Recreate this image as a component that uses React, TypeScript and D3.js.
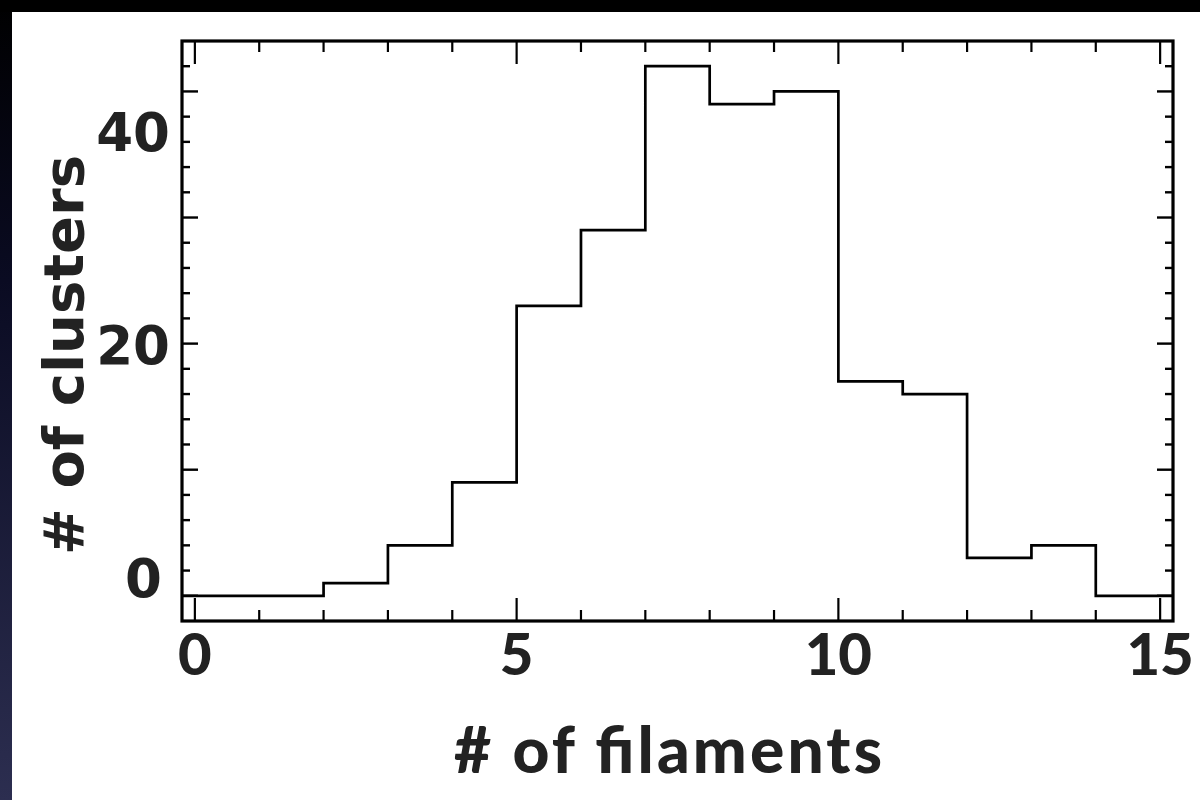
import React from "react";
import * as d3 from "d3";

// ---- data ----
const binEdges = [0, 1, 2, 3, 4, 5, 6, 7, 8, 9, 10, 11, 12, 13, 14, 15];
const counts = [0, 0, 1, 4, 9, 23, 29, 42, 39, 40, 17, 16, 3, 4, 0];
const xMajorTicks = [0, 5, 10, 15];
const xTickLabels = ["0", "5", "10", "15"];
const yMajorTicks = [0, 10, 20, 30, 40];
const yTickLabels = ["0", "20", "40"];
const yTickLabelAt = [1.4, 19.9, 36.8];
const xTitle = "# of filaments";
const yTitle = "# of clusters";

const W = 1200;
const H = 800;

export default function App() {
  const x = d3.scaleLinear().domain([-0.2, 15.2]).range([182, 1173]);
  const y = d3.scaleLinear().domain([-2, 44]).range([621, 41]);
  const [x0, x1] = x.domain();
  const [y0, y1] = y.domain();

  const pts: [number, number][] = counts.map((c, i) => [i === 0 ? x0 : binEdges[i], c]);
  pts.push([x1, counts[counts.length - 1]]);
  const line = d3
    .line<[number, number]>()
    .x((d) => x(d[0]))
    .y((d) => y(d[1]))
    .curve(d3.curveStepAfter);

  const xMinor = d3.range(0, 16, 1).filter((v) => !xMajorTicks.includes(v));
  const yMinor = d3.range(0, 43, 2).filter((v) => !yMajorTicks.includes(v));

  const top = y(y1);
  const bottom = y(y0);
  const left = x(x0);
  const right = x(x1);

  return (
    <svg
      width={W}
      height={H}
      style={{ position: "absolute", left: 0, top: 0, display: "block" }}
    >
      <defs>
        <linearGradient id="side" x1="0" y1="0" x2="0" y2="1">
          <stop offset="0" stopColor="#000000" />
          <stop offset="0.35" stopColor="#0a0b22" />
          <stop offset="1" stopColor="#2c2e50" />
        </linearGradient>
      </defs>
      <rect x={0} y={0} width={W} height={H} fill="#ffffff" />
      <rect x={0} y={0} width={12} height={H} fill="url(#side)" />
      <rect x={0} y={0} width={W} height={12} fill="#000000" />

      {/* histogram */}
      <path d={line(pts) || ""} fill="none" stroke="#000" strokeWidth={2.7} />

      {/* x ticks */}
      {xMajorTicks.map((v) => (
        <g key={"xM" + v}>
          <line x1={x(v)} x2={x(v)} y1={bottom} y2={bottom - 23} stroke="#000" strokeWidth={2.2} />
          <line x1={x(v)} x2={x(v)} y1={top} y2={top + 23} stroke="#000" strokeWidth={2.2} />
        </g>
      ))}
      {xMinor.map((v) => (
        <g key={"xm" + v}>
          <line x1={x(v)} x2={x(v)} y1={bottom} y2={bottom - 11} stroke="#000" strokeWidth={2.2} />
          <line x1={x(v)} x2={x(v)} y1={top} y2={top + 11} stroke="#000" strokeWidth={2.2} />
        </g>
      ))}
      {/* y ticks */}
      {yMajorTicks.map((v) => (
        <g key={"yM" + v}>
          <line x1={left} x2={left + 16} y1={y(v)} y2={y(v)} stroke="#000" strokeWidth={2.4} />
          <line x1={right} x2={right - 16} y1={y(v)} y2={y(v)} stroke="#000" strokeWidth={2.4} />
        </g>
      ))}
      {yMinor.map((v) => (
        <g key={"ym" + v}>
          <line x1={left} x2={left + 8} y1={y(v)} y2={y(v)} stroke="#000" strokeWidth={2.4} />
          <line x1={right} x2={right - 8} y1={y(v)} y2={y(v)} stroke="#000" strokeWidth={2.4} />
        </g>
      ))}

      {/* frame */}
      <rect
        x={left}
        y={top}
        width={right - left}
        height={bottom - top}
        fill="none"
        stroke="#000"
        strokeWidth={3.2}
      />

      {/* x tick labels */}
      {xMajorTicks.map((v, i) => (
        <text
          key={"xl" + v}
          x={x(v)}
          y={675}
          textAnchor="middle"
          fontFamily="Lato, 'Open Sans', sans-serif"
          fontWeight={900}
          fontSize={58}
          fill="#222"
        >
          {xTickLabels[i]}
        </text>
      ))}
      {/* y tick labels */}
      {yTickLabels.map((t, i) => (
        <text
          key={"yl" + t}
          x={t === "0" ? 162 : 170}
          y={y(yTickLabelAt[i])}
          dy="0.36em"
          textAnchor="end"
          fontFamily="'DejaVu Sans', sans-serif"
          fontWeight={700}
          fontSize={53}
          fill="#222"
        >
          {t}
        </text>
      ))}

      {/* axis titles */}
      <text
        x={668}
        y={773}
        textAnchor="middle"
        textLength={428}
        lengthAdjust="spacing"
        fontFamily="Lato, 'Open Sans', sans-serif"
        fontWeight={900}
        fontSize={64}
        fill="#222"
      >
        {xTitle}
      </text>
      <text
        transform={`translate(83, 355) rotate(-90)`}
        textAnchor="middle"
        fontFamily="'DejaVu Sans', sans-serif"
        fontWeight={700}
        fontSize={56}
        fill="#222"
      >
        {yTitle}
      </text>
    </svg>
  );
}
